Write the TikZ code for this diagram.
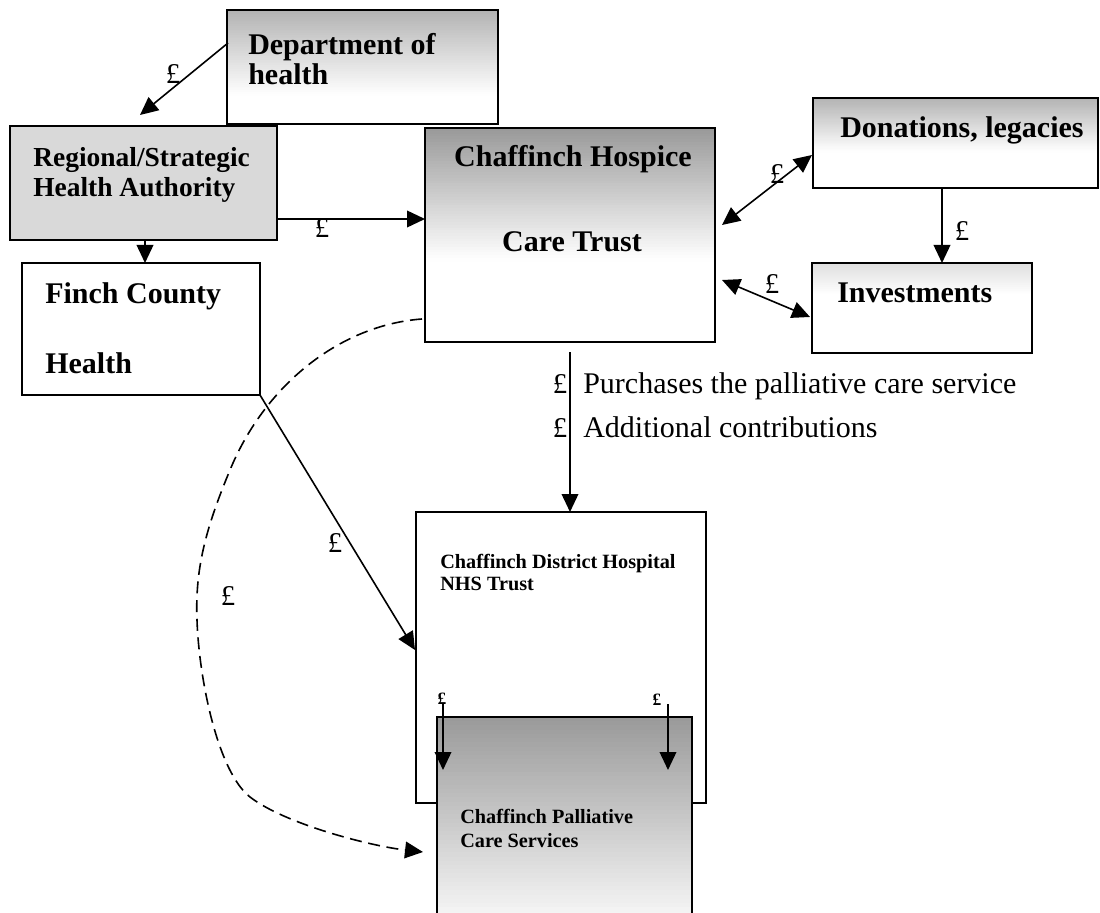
\documentclass[tikz,border=0pt]{standalone}
\usepackage{fontspec}
\setmainfont{Liberation Serif}
\usetikzlibrary{arrows.meta,calc}

\tikzset{
  box/.style={draw=black, line width=1.3pt, rectangle, inner sep=0pt, outer sep=0pt, anchor=north west, fill=white},
  % grey (#1 %) at the top edge, fading in thin bands to the base tint (#3 %)
  % at fraction #2 of the height
  fade/.style n args={3}{path picture={
    \foreach \i in {0,...,47} {
      \pgfmathsetmacro\fa{#2*\i/48}
      \pgfmathsetmacro\fb{#2*(\i+1)/48}
      \pgfmathsetmacro\tint{#3+(#1-#3)*(1-(\i+0.5)/48)}
      \fill[black!\tint]
        ($(path picture bounding box.north west)!\fa!(path picture bounding box.south west)$)
        rectangle
        ($(path picture bounding box.north east)!\fb!(path picture bounding box.south east)+(0,1)$);
    }}},
  bigtxt/.style={font=\fontsize{22.5}{27}\selectfont\bfseries, inner sep=0pt, anchor=base west},
  midtxt/.style={font=\fontsize{20.6}{24}\selectfont\bfseries, inner sep=0pt, anchor=base west},
  smalltxt/.style={font=\fontsize{15.2}{18}\selectfont\bfseries, inner sep=0pt, anchor=base west},
  plaintxt/.style={font=\fontsize{22.5}{27}\selectfont, inner sep=0pt, anchor=base west},
  money/.style={font=\fontsize{21.5}{24}\selectfont, inner sep=0pt, anchor=base},
  tinymoney/.style={font=\fontsize{13}{15}\selectfont\bfseries, inner sep=0pt, anchor=base},
  tip/.tip={Triangle[length=13.5pt,width=12.5pt]},
  flow/.style={line width=1.2pt, -tip},
  twoway/.style={line width=1.2pt, tip-tip},
  backflow/.style={line width=1.2pt, -tip, dash pattern=on 9pt off 5pt}
}

\begin{document}
\begin{tikzpicture}[x=0.75pt,y=-0.75pt]
\useasboundingbox (0,0) rectangle (1100,913);

% ---- boxes ----
\node[box, fade={30}{0.75}{0}, minimum width=203.25pt, minimum height=85.5pt] (doh) at (227,10) {};
\node[box, fill=black!15, minimum width=200.25pt, minimum height=85.5pt] (reg) at (10,126) {};
\node[box, fade={40}{0.62}{0}, minimum width=217.5pt, minimum height=160.5pt] (hosp) at (425,128) {};
\node[box, fade={30}{0.6}{0}, minimum width=213.75pt, minimum height=67.5pt] (don) at (813,98) {};
\node[box, fade={13}{0.35}{0}, minimum width=165pt, minimum height=67.5pt] (inv) at (812,263) {};
\node[box, minimum width=178.5pt, minimum height=99pt] (finch) at (22,263) {};
\node[box, minimum width=217.5pt, minimum height=218.25pt] (dist) at (416,512) {};
\node[box, fade={40}{1}{3}, minimum width=191.25pt, minimum height=152.25pt] (pall) at (437,717) {};

% ---- box texts ----
\node[bigtxt] (dohA) at (248,55) {Department of};
\node[bigtxt] (dohB) at (248,85) {health};
\node[midtxt] (regA) at (33,167) {Regional/Strategic};
\node[midtxt] (regB) at (33,197) {Health Authority};
\node[bigtxt, anchor=base] (hospA) at (573,167) {Chaffinch Hospice};
\node[bigtxt, anchor=base] (hospB) at (572,252) {Care Trust};
\node[bigtxt] (donA) at (840,138) {Donations, legacies};
\node[bigtxt] (invA) at (837,302) {Investments};
\node[bigtxt] (finchA) at (45,303) {Finch County};
\node[bigtxt] (finchB) at (45,373) {Health};
\node[smalltxt] (distA) at (440,568) {Chaffinch District Hospital};
\node[smalltxt] (distB) at (440,590) {NHS Trust};
\node[smalltxt] (pallA) at (460,823) {Chaffinch Palliative};
\node[smalltxt] (pallB) at (460,847) {Care Services};

% ---- money flows ----
\draw[flow] ($(doh.north west)+(1,33)$) -- ($(reg.north west)+(130,-11)$);
\draw[flow] ($(reg.south east)+(0,-21)$) coordinate (rh) -- (hosp.west |- rh);
\draw[flow] ($(reg.south west)+(135,0)$) coordinate (rf) -- (finch.north -| rf);
\draw[flow] (finch.south east) -- ($(dist.north west)+(-1,138)$);
\draw[flow] ($(hosp.south)+(0,10)$) coordinate (hd) -- (dist.north -| hd);
\draw[twoway] ($(hosp.north east)+(7,97)$) -- ($(don.north west)+(-1,57)$);
\draw[twoway] ($(hosp.north east)+(7,152)$) -- ($(inv.north west)+(-2,54)$);
\draw[flow] ($(don.south west)+(129,0)$) coordinate (di) -- (inv.north -| di);
\draw[flow] ($(pall.north west)+(6,-14)$) -- ($(pall.north west)+(6,53)$);
\draw[flow] ($(pall.north east)+(-24,-13)$) -- ($(pall.north east)+(-24,53)$);
\draw[backflow] ($(hosp.north west)+(-3,191)$)
  .. controls (340,325) and (265,385) .. (230,470)
  .. controls (205,530) and (195,570) .. (197,620)
  .. controls (199,680) and (218,772) .. (250,797)
  .. controls (285,824) and (370,846) .. ($(pall.north west)+(-14,135)$);

% ---- flow labels ----
\node[money] (m1) at (173,84) {£};
\node[money] (m2) at (322,238) {£};
\node[money] (m3) at (777,184) {£};
\node[money] (m4) at (772,293) {£};
\node[money] (m5) at (962,240) {£};
\node[money] (m6) at (335,552) {£};
\node[money] (m7) at (228,605) {£};
\node[money] (m8) at (560,393) {£};
\node[money] (m9) at (560,437) {£};
\node[plaintxt] (t1) at (583,393) {Purchases the palliative care service};
\node[plaintxt] (t2) at (583,437) {Additional contributions};
\node[tinymoney] (m10) at (442,704) {£};
\node[tinymoney] (m11) at (657,705) {£};
\end{tikzpicture}
\end{document}
